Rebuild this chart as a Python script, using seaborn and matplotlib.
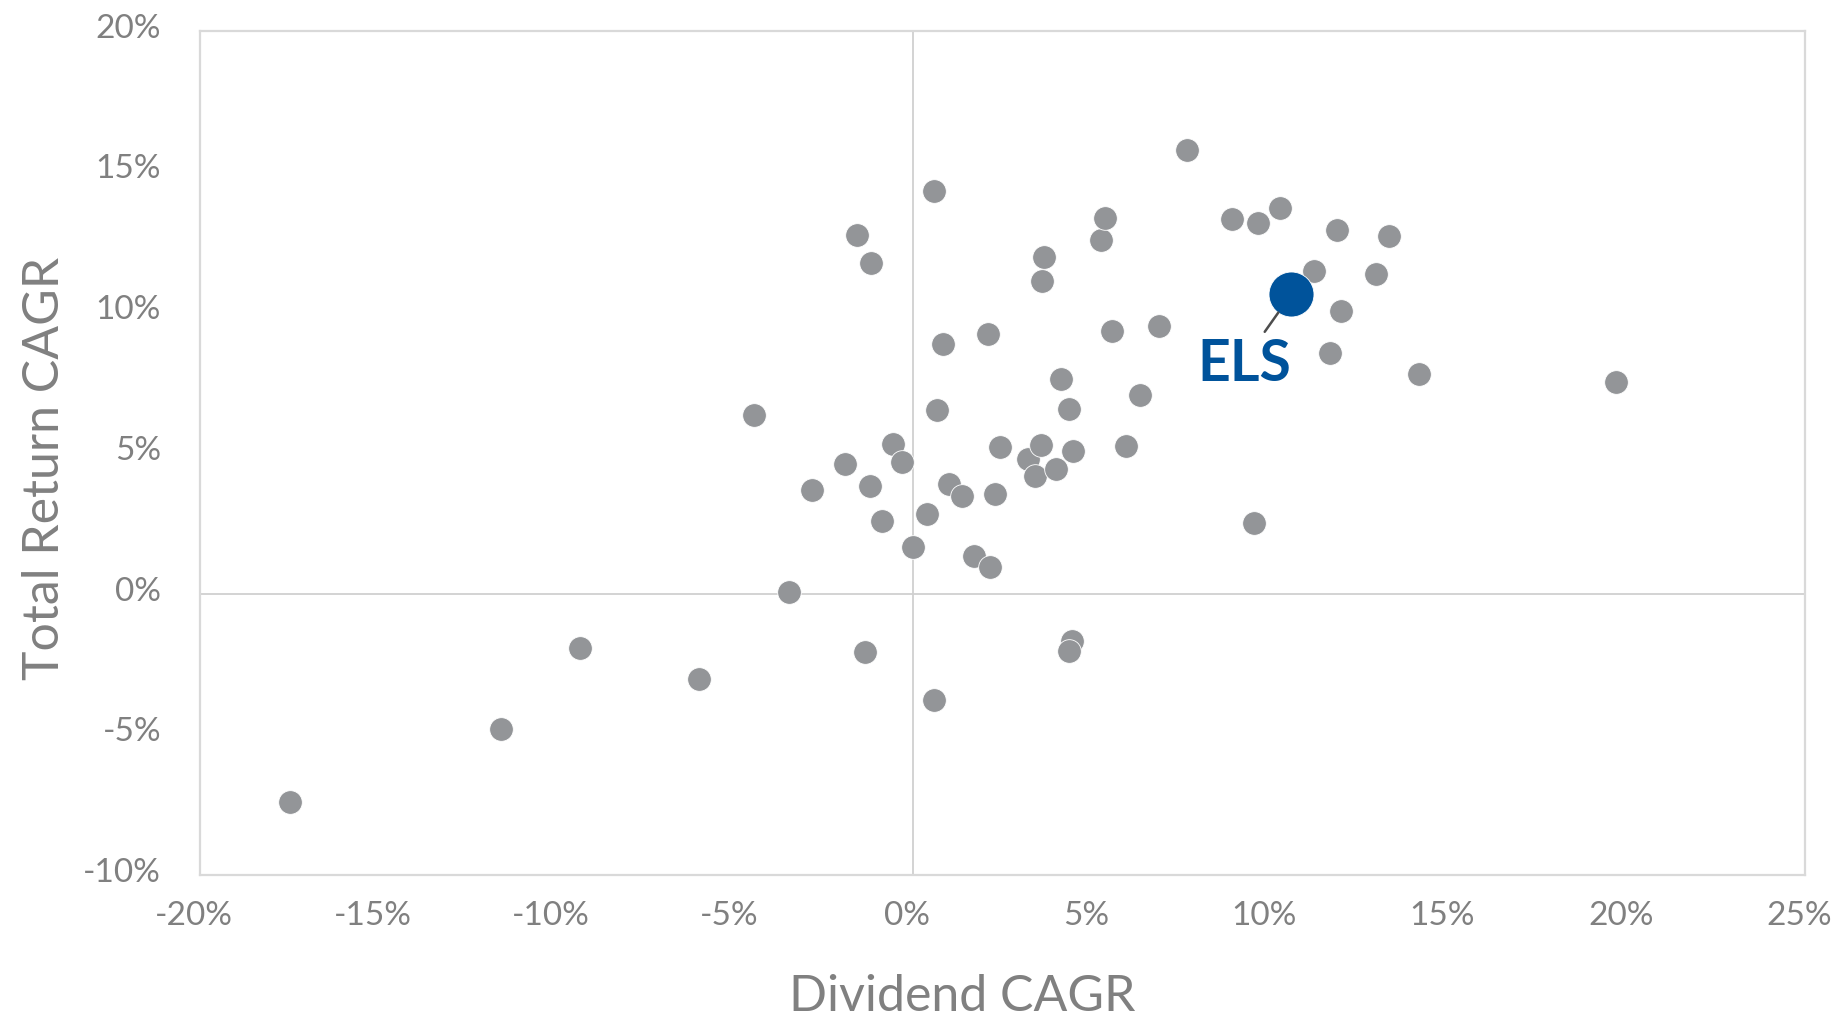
import matplotlib
matplotlib.use("Agg")
import matplotlib.pyplot as plt
import matplotlib.transforms as mtransforms
from matplotlib.ticker import FuncFormatter
import pandas as pd
import seaborn as sns

sns.set_style("white")
plt.rcParams['font.family'] = ['Lato', 'DejaVu Sans']

# peer group: dividend CAGR (%) vs total return CAGR (%)
div_cagr = [-17.49, -11.55, -9.36, -6.00, -3.49, -4.48, -2.85, -1.91, -1.23, -0.88,
            -0.56, -0.31, -1.37, -1.58, -1.18, 0.58, 0.67, 0.82, 0.00, 0.37,
            1.00, 1.37, 1.70, 2.14, 2.28, 2.43, 2.10, 0.57, 3.22, 3.41,
            3.58, 4.00, 4.48, 4.35, 4.14, 3.60, 3.66, 5.27, 5.37, 5.57,
            5.97, 6.34, 6.89, 7.68, 8.92, 9.66, 10.28, 9.55, 4.45, 4.35,
            11.23, 11.87, 13.33, 12.96, 12.00, 11.69, 14.18, 19.69]
tr_cagr = [-7.42, -4.81, -1.95, -3.02, 0.06, 6.36, 3.67, 4.60, 3.82, 2.58,
           5.32, 4.68, -2.09, 12.73, 11.76, 14.30, 6.52, 8.86, 1.66, 2.82,
           3.91, 3.46, 1.32, 0.95, 3.54, 5.22, 9.22, -3.79, 4.78, 4.16,
           5.28, 4.41, 5.07, 6.56, 7.64, 11.11, 11.96, 12.57, 13.36, 9.32,
           5.24, 7.06, 9.51, 15.76, 13.30, 13.18, 13.69, 2.50, -1.70, -2.05,
           11.46, 12.91, 12.70, 11.36, 10.04, 8.56, 7.80, 7.52]

els_name = "ELS"
els_div = [10.59]
els_tr = [10.63]

x_ticks = [-20, -15, -10, -5, 0, 5, 10, 15, 20, 25]
y_ticks = [-10, -5, 0, 5, 10, 15, 20]

GRAY_DOT = "#939598"
BLUE = "#00539B"
TEXT_GRAY = "#808080"

peers = pd.DataFrame({"div": div_cagr, "tr": tr_cagr})
els = pd.DataFrame({"div": els_div, "tr": els_tr})

fig = plt.figure(figsize=(18.44, 10.20), dpi=100)
ax = fig.add_axes([0.1085, 0.1412, 0.8704, 0.8277])

ax.axhline(0, color="#d0d0d0", lw=1.3, zorder=1)
ax.axvline(0, color="#d0d0d0", lw=1.3, zorder=1)

sns.scatterplot(data=peers, x="div", y="tr", ax=ax, color=GRAY_DOT, s=290,
                edgecolor="white", linewidth=0.6, zorder=3)
sns.scatterplot(data=els, x="div", y="tr", ax=ax, color=BLUE, s=1050,
                edgecolor="white", linewidth=0.6, zorder=4)

ax.annotate(els_name, xy=(els_div[0], els_tr[0]), xytext=(-34, -50),
            textcoords="offset points", ha="center", va="center",
            fontsize=41, fontweight="bold", color=BLUE, zorder=5,
            arrowprops=dict(arrowstyle="-", color="#4d4d4d", lw=1.8,
                            relpos=(0.68, 1.0), shrinkA=2, shrinkB=16))

ax.set_xlim(x_ticks[0], x_ticks[-1])
ax.set_ylim(y_ticks[0], y_ticks[-1])
ax.set_xticks(x_ticks)
ax.set_yticks(y_ticks)
pct = FuncFormatter(lambda v, pos: f"{v:.0f}%")
ax.xaxis.set_major_formatter(pct)
ax.yaxis.set_major_formatter(pct)
ax.tick_params(axis="both", length=0, labelsize=24, labelcolor=TEXT_GRAY)
ax.tick_params(axis="x", pad=18)
ax.tick_params(axis="y", pad=28)

# nudge tick labels a touch, like the original
up = mtransforms.ScaledTranslation(0, 0.06, fig.dpi_scale_trans)
for lab in ax.get_yticklabels():
    lab.set_transform(lab.get_transform() + up)
left = mtransforms.ScaledTranslation(-0.06, 0, fig.dpi_scale_trans)
for lab in ax.get_xticklabels():
    lab.set_transform(lab.get_transform() + left)

for sp in ax.spines.values():
    sp.set_color("#d9d9d9")
    sp.set_linewidth(1.6)

ax.set_xlabel("Dividend CAGR", fontsize=36, color=TEXT_GRAY)
ax.set_ylabel("Total Return CAGR", fontsize=36, color=TEXT_GRAY)
ax.xaxis.set_label_coords(0.4747, -0.116)
ax.yaxis.set_label_coords(-0.082, 0.483)

fig.savefig("out.png", dpi=100, facecolor="white")
plt.close(fig)
